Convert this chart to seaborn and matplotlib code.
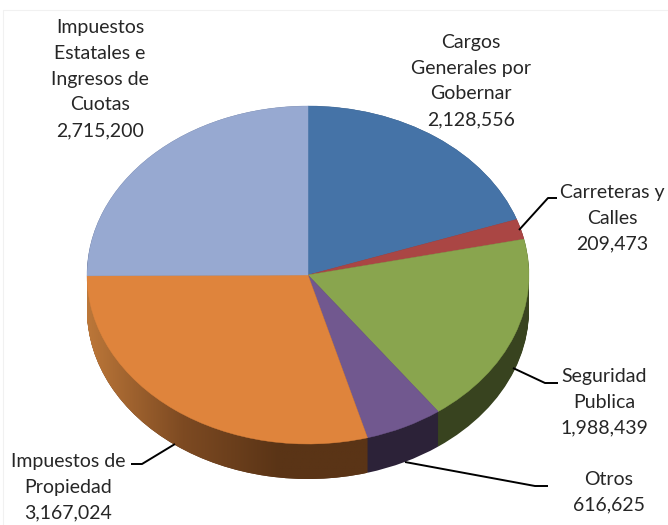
import matplotlib.pyplot as plt
import numpy as np
import seaborn as sns
from matplotlib.colors import LinearSegmentedColormap
from matplotlib.patches import PathPatch, Rectangle
from matplotlib.path import Path

categorias = [
    "Cargos\nGenerales por\nGobernar",
    "Carreteras y\nCalles",
    "Seguridad\nPublica",
    "Otros",
    "Impuestos de\nPropiedad",
    "Impuestos\nEstatales e\nIngresos de\nCuotas",
]
valores = [2128556, 209473, 1988439, 616625, 3167024, 2715200]
cores = ["#4573A7", "#AA4644", "#89A54E", "#71588F", "#DF843C", "#97A9D1"]
cores_lado = ["#24394F", "#552322", "#38431F", "#2C2238", "#5A3416", "#4B5468"]
gradiente_laranja = ["#BC7739", "#7D4A22", "#5A3416", "#5A3416"]

# posicao do rotulo (centro x, centro y) em pixels da figura
pos_rotulos = [(471, 81), (612, 218), (604, 402), (609, 492), (68, 487), (100, 79)]
# linhas de chamada em pixels
linhas_chamada = {
    1: [(519, 230), (548, 198), (557, 198)],
    2: [(513, 368), (545, 383), (558, 383)],
    3: [(405, 462), (535, 486), (548, 486)],
    4: [(175, 444), (142, 464), (131, 464)],
}

# elipse do topo em pixels
CX, CY, RX, RY = 308, 275, 221, 169
PROFUNDIDADE = 35 / RY
N_CAMADAS = 36

sns.set_theme(style="white")
plt.rcParams["font.family"] = ["Lato", "DejaVu Sans"]

fig = plt.figure(figsize=(6.68, 5.25), dpi=100, facecolor="white")
ax = fig.add_axes([0, 0, 1, 1])

# parede lateral: pilha de pizzas deslocadas para baixo
caminhos_laranja = []
for s in np.linspace(PROFUNDIDADE, 0, N_CAMADAS):
    wedges, _ = ax.pie(
        valores,
        colors=cores_lado,
        startangle=90,
        counterclock=False,
        center=(0, -s),
        radius=1,
        wedgeprops={"linewidth": 0},
    )
    w = wedges[4]
    caminhos_laranja.append(w.get_path().transformed(w.get_patch_transform()))

# degrade da parede da fatia laranja
cmap_laranja = LinearSegmentedColormap.from_list("lado", gradiente_laranja)
img = ax.imshow(
    np.linspace(0, 1, 256)[None, :],
    cmap=cmap_laranja,
    extent=(-1, 0.3, -1.3, 0.1),
    aspect="auto",
    zorder=2,
)
clip = PathPatch(Path.make_compound_path(*caminhos_laranja), transform=ax.transData)
img.set_clip_path(clip)

# topo
topo, _ = ax.pie(
    valores,
    colors=cores,
    startangle=90,
    counterclock=False,
    wedgeprops={"linewidth": 0.3, "zorder": 3},
)
for w, c in zip(topo, cores):
    w.set_edgecolor(c)

ax.set_aspect("auto")
ax.set_xlim(-CX / RX, (668 - CX) / RX)
ax.set_ylim((CY - 525) / RY, CY / RY)
ax.axis("off")

# camada de anotacoes em pixels
ax2 = fig.add_axes([0, 0, 1, 1], facecolor="none")
ax2.set_xlim(0, 668)
ax2.set_ylim(525, 0)
ax2.axis("off")
ax2.add_patch(Rectangle((3, 10), 700, 600, fill=False, edgecolor="#F1F1F1", linewidth=0.8))

for nome, v, (x, y) in zip(categorias, valores, pos_rotulos):
    ax2.text(
        x, y, f"{nome}\n{v:,}",
        ha="center", va="center", multialignment="center",
        fontsize=14, color="#262626", linespacing=1.63,
    )

for pts in linhas_chamada.values():
    xs, ys = zip(*pts)
    ax2.plot(xs, ys, color="black", linewidth=1.4, solid_capstyle="butt")

fig.savefig("out.png", dpi=100)
plt.close(fig)
